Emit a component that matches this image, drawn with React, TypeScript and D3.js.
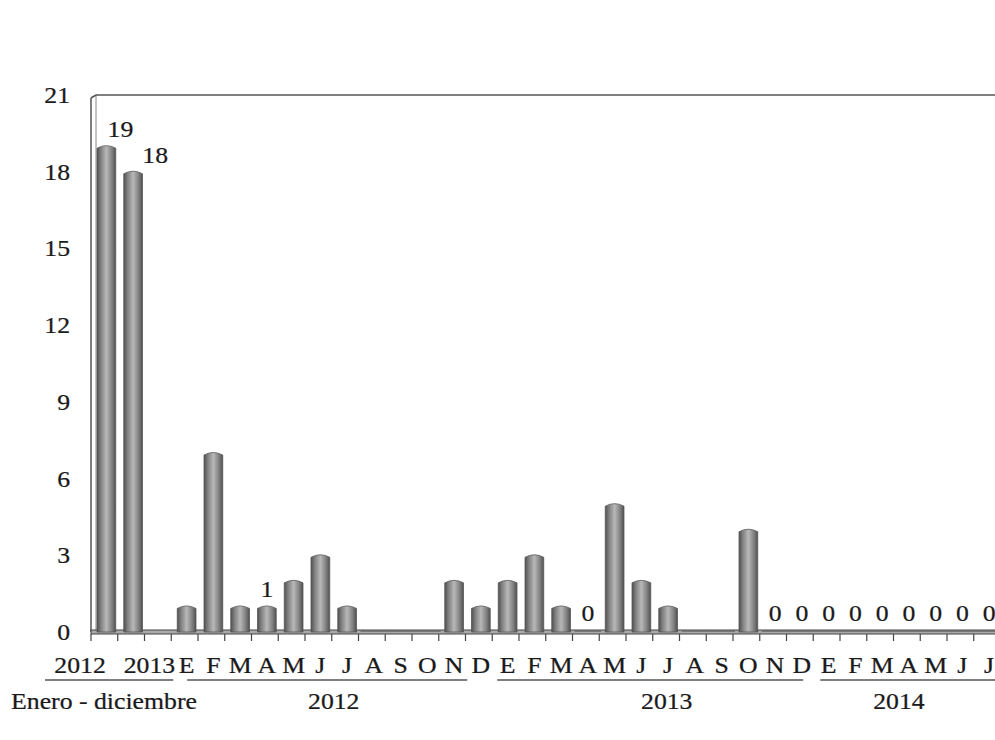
import React from 'react';
import * as d3 from 'd3';

const categories = ['2012', '2013', '',
  'E', 'F', 'M', 'A', 'M', 'J', 'J', 'A', 'S', 'O', 'N', 'D',
  'E', 'F', 'M', 'A', 'M', 'J', 'J', 'A', 'S', 'O', 'N', 'D',
  'E', 'F', 'M', 'A', 'M', 'J', 'J'];
const values: (number | null)[] = [19, 18, null,
  1, 7, 1, 1, 2, 3, 1, 0, 0, 0, 2, 1,
  2, 3, 1, 0, 5, 2, 1, 0, 0, 4, 0, 0,
  0, 0, 0, 0, 0, 0, 0];
const dataLabels: (string | null)[] = ['19', '18', null,
  null, null, null, '1', null, null, null, null, null, null, null, null,
  null, null, null, '0', null, null, null, null, null, null, '0', '0',
  '0', '0', '0', '0', '0', '0', '0'];
const yTicks = [0, 3, 6, 9, 12, 15, 18, 21];
const groups = [
  { label: 'Enero - diciembre', start: 0, end: 2 },
  { label: '2012', start: 3, end: 14 },
  { label: '2013', start: 15, end: 26 },
  { label: '2014', start: 27, end: 33 },
];

const W = 995, H = 740;
const left = 91, right = 1000.5, top = 95, bottom = 632;
const FONT = '"Liberation Serif", "Times New Roman", serif';
const FS = 23;
const SX = 1.12;

function T({ x, y, anchor = 'middle', children, size = FS }: any) {
  return (
    <text transform={`translate(${x},${y}) scale(${SX},1)`} textAnchor={anchor}
      fontFamily={FONT} fontSize={size} fill="#1a1a1a" stroke="#1a1a1a" strokeWidth={0.25}>{children}</text>
  );
}

export default function App() {
  const idx = categories.map((_, i) => i);
  const x = d3.scaleBand<number>().domain(idx).range([left, right]).paddingInner(0.3).paddingOuter(0.15);
  const y = d3.scaleLinear().domain([0, 21]).range([bottom, top]);
  const step = x.step();
  const bw = x.bandwidth();
  const bound = (i: number) => left + i * step;
  const shift = 2;
  const labelDx: Record<number, number> = { 0: 14, 1: 22 };
  const groupLine: Record<number, [number, number]> = { 0: [-46, 2], 1: [16, -25], 2: [5, -10], 3: [7, 0] };
  const groupDx: Record<number, number> = { 0: 0, 1: 2, 2: 14, 3: -8 };

  return (
    <div style={{ position: 'absolute', left: 0, top: 0 }}>
      <svg width={W} height={H} style={{ display: 'block' }}>
        <defs>
          <linearGradient id="cyl" x1="0" x2="1" y1="0" y2="0">
            <stop offset="0" stopColor="#505050" />
            <stop offset="0.2" stopColor="#808080" />
            <stop offset="0.5" stopColor="#b8b8b8" />
            <stop offset="0.8" stopColor="#808080" />
            <stop offset="1" stopColor="#505050" />
          </linearGradient>
        </defs>
        <rect width={W} height={H} fill="#fff" />
        {/* walls */}
        <line x1={left} y1={bottom} x2={left} y2={top + 3} stroke="#555" strokeWidth={1.5} />
        <line x1={left + 5} y1={bottom - 2} x2={left + 5} y2={top} stroke="#888" strokeWidth={1} />
        <line x1={left} y1={top + 3} x2={left + 5} y2={top} stroke="#555" strokeWidth={1.5} />
        <line x1={left + 5} y1={top} x2={W + 10} y2={top} stroke="#555" strokeWidth={1.5} />
        {/* y labels */}
        {yTicks.map(t => (
          <T key={t} x={70} y={y(t) + 8} anchor="end">{t}</T>
        ))}
        {/* floor */}
        <rect x={left} y={bottom - 2} width={right - left + 10} height={4} fill="#aaa" stroke="#444" strokeWidth={1} />
        {/* ticks */}
        {d3.range(0, categories.length + 1).map(i => (
          <line key={i} x1={bound(i)} x2={bound(i)} y1={bottom + 2} y2={bottom + 9} stroke="#444" strokeWidth={1.2} />
        ))}
        {/* bars */}
        {values.map((v, i) => {
          if (v === null) return null;
          const bx = (x(i) as number) + shift;
          if (v === 0) {
            return <line key={i} x1={bound(i) + 2} x2={bound(i + 1) + 2} y1={bottom - 1} y2={bottom - 1} stroke="#666" strokeWidth={1.5} />;
          }
          const yt = y(v);
          return (
            <g key={i}>
              <path d={`M${bx},${bottom} L${bx},${yt + 2} Q${bx + bw / 2},${yt - 3} ${bx + bw},${yt + 2} L${bx + bw},${bottom} Z`}
                fill="url(#cyl)" stroke="#555" strokeWidth={0.8} />
            </g>
          );
        })}
        {/* data labels */}
        {dataLabels.map((l, i) => l === null ? null : (
          <T key={i} x={(x(i) as number) + bw / 2 + shift + (labelDx[i] || 0)} y={y(values[i] || 0) - (values[i] ? 9 : 11)}>{l}</T>
        ))}
        {/* category labels */}
        {categories.map((c, i) => {
          if (i === 0) return <T key={i} x={bound(1) - 12} y={673} anchor="end">{c}</T>;
          if (i === 1) return <T key={i} x={bound(1) + 6} y={673} anchor="start">{c}</T>;
          return <T key={i} x={(x(i) as number) + bw / 2 + shift} y={673}>{c}</T>;
        })}
        {/* groups */}
        {groups.map((g, gi) => {
          const x1 = bound(g.start) + groupLine[gi][0];
          const x2 = bound(g.end + 1) + groupLine[gi][1];
          const cx = gi === 0 ? 104 : (bound(g.start) + bound(g.end + 1)) / 2 + groupDx[gi];
          return (
            <g key={gi}>
              <line x1={x1} x2={x2} y1={680} y2={680} stroke="#555" strokeWidth={1.5} />
              <T x={cx} y={709}>{g.label}</T>
            </g>
          );
        })}
      </svg>
    </div>
  );
}
